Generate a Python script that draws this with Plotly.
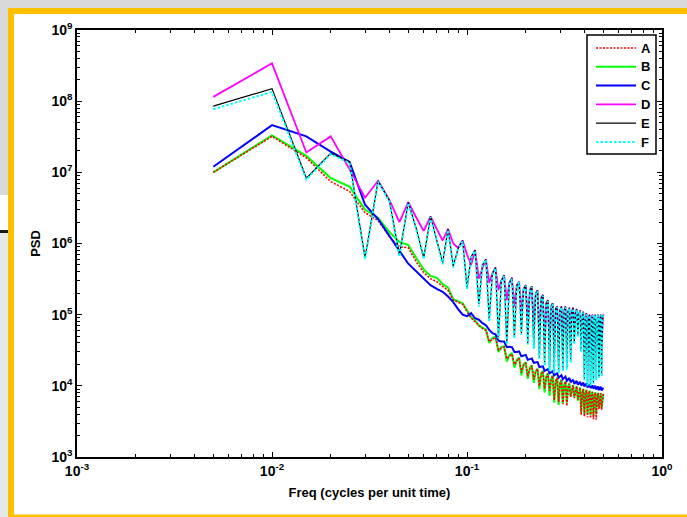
import plotly.graph_objects as go

# ---------------- data ----------------
freq = [0.005 * k for k in range(1, 101)]  # 0.005 ... 0.5 cycles per unit time

A = [1.0e7, 3.2e7, 1.6e7, 7.4e6, 5.4e6, 2.7e6, 2.1e6, 1.25e6, 9.0e5, 8.7e5,
     5.5e5, 3.9e5, 3.2e5, 2.9e5, 2.5e5, 2.2e5, 1.6e5, 1.5e5, 1.4e5, 1.1e5,
     9.0e4, 8.0e4, 7.2e4, 6.4e4, 6.0e4, 4.2e4, 4.5e4, 4.8e4, 3.2e4, 3.4e4,
     3.5e4, 2.4e4, 2.6e4, 2.8e4, 2.0e4, 2.2e4, 2.45e4, 1.55e4, 1.95e4, 2.1e4,
     1.36e4, 1.74e4, 1.93e4, 1.23e4, 1.57e4, 1.74e4, 1.0e4, 1.45e4, 1.6e4, 9.1e3,
     1.32e4, 1.48e4, 8.5e3, 1.23e4, 1.38e4, 6.3e3, 1.15e4, 1.29e4, 5.9e3, 1.07e4,
     1.2e4, 5.5e3, 1.01e4, 1.15e4, 5.2e3, 9.5e3, 1.07e4, 7.0e3, 9.1e3, 1.02e4,
     6.7e3, 8.7e3, 9.8e3, 6.4e3, 8.3e3, 9.4e3, 3.9e3, 7.9e3, 9.0e3, 3.7e3,
     7.7e3, 8.7e3, 3.6e3, 7.4e3, 8.5e3, 3.5e3, 7.2e3, 8.2e3, 3.4e3, 7.1e3,
     8.0e3, 3.35e3, 6.9e3, 7.9e3, 4.7e3, 6.8e3, 7.9e3, 4.6e3, 6.8e3, 7.8e3]

B = [1.0e7, 3.3e7, 1.7e7, 8.3e6, 6.3e6, 3.0e6, 2.3e6, 1.45e6, 1.05e6, 9.5e5,
     6.2e5, 4.3e5, 3.5e5, 3.3e5, 2.7e5, 2.4e5, 1.65e5, 1.55e5, 1.45e5, 1.15e5,
     9.2e4, 8.3e4, 7.0e4, 6.6e4, 6.2e4, 4.0e4, 4.7e4, 4.9e4, 3.0e4, 3.5e4,
     3.6e4, 2.2e4, 2.7e4, 2.9e4, 1.8e4, 2.3e4, 2.5e4, 1.4e4, 2.0e4, 2.15e4,
     1.25e4, 1.8e4, 1.95e4, 1.1e4, 1.6e4, 1.75e4, 9.0e3, 1.5e4, 1.62e4, 8.0e3,
     1.35e4, 1.5e4, 7.2e3, 1.25e4, 1.4e4, 5.8e3, 1.17e4, 1.3e4, 5.4e3, 1.1e4,
     1.22e4, 5.6e3, 1.03e4, 1.16e4, 5.8e3, 9.7e3, 1.08e4, 7.2e3, 9.3e3, 1.03e4,
     6.9e3, 8.9e3, 9.9e3, 6.2e3, 8.5e3, 9.5e3, 4.3e3, 8.1e3, 9.1e3, 4.0e3,
     7.8e3, 8.8e3, 4.0e3, 7.6e3, 8.6e3, 3.9e3, 7.4e3, 8.3e3, 3.8e3, 7.2e3,
     8.1e3, 4.0e3, 7.0e3, 8.0e3, 5.0e3, 6.9e3, 7.9e3, 4.9e3, 6.9e3, 7.7e3]

C = [1.2e7, 4.6e7, 3.2e7, 1.95e7, 1.4e7, 3.5e6, 2.2e6, 1.26e6, 7.9e5, 5.2e5,
     4.0e5, 3.2e5, 2.6e5, 2.3e5, 2.1e5, 1.8e5, 1.5e5, 1.2e5, 1.0e5, 9.5e4,
     1.05e5, 8.9e4, 8.5e4, 7.6e4, 7.1e4, 6.1e4, 5.5e4, 5.3e4, 4.3e4, 4.2e4,
     4.2e4, 3.5e4, 3.55e4, 3.5e4, 3.0e4, 3.0e4, 3.05e4, 2.6e4, 2.63e4, 2.72e4,
     2.32e4, 2.4e4, 2.43e4, 2.11e4, 2.14e4, 2.16e4, 1.84e4, 1.86e4, 1.88e4, 1.62e4,
     1.66e4, 1.72e4, 1.5e4, 1.55e4, 1.6e4, 1.4e4, 1.45e4, 1.5e4, 1.3e4, 1.35e4,
     1.41e4, 1.24e4, 1.29e4, 1.35e4, 1.18e4, 1.23e4, 1.29e4, 1.12e4, 1.17e4, 1.22e4,
     1.07e4, 1.11e4, 1.17e4, 1.04e4, 1.08e4, 1.14e4, 1.01e4, 1.05e4, 1.11e4, 9.8e3,
     1.02e4, 1.08e4, 9.5e3, 1.0e4, 1.05e4, 9.3e3, 9.8e3, 1.02e4, 9.1e3, 9.5e3,
     1.0e4, 8.9e3, 9.3e3, 9.8e3, 8.7e3, 9.2e3, 9.7e3, 8.6e3, 9.1e3, 9.4e3]

D = [1.15e8, 3.4e8, 1.9e7, 3.2e7, 1.1e7, 4.4e6, 7.6e6, 4.1e6, 2.0e6, 3.8e6,
     2.3e6, 1.5e6, 2.4e6, 1.6e6, 1.1e6, 1.6e6, 1.0e6, 8.7e5, 1.1e6, 7.0e5,
     5.0e5, 8.1e5, 3.2e5, 4.5e5, 6.0e5, 2.8e5, 3.8e5, 4.6e5, 2.2e5, 3.0e5,
     3.6e5, 1.6e5, 2.8e5, 3.3e5, 1.3e5, 2.6e5, 2.9e5, 1.1e5, 2.3e5, 2.6e5,
     9.0e4, 2.2e5, 2.5e5, 7.0e4, 2.0e5, 2.2e5, 5.5e4, 1.7e5, 1.9e5, 4.5e4,
     1.45e5, 1.6e5, 4.0e4, 1.3e5, 1.45e5, 4.0e4, 1.2e5, 1.3e5, 4.5e4, 1.15e5,
     1.3e5, 5.0e4, 1.15e5, 1.3e5, 5.0e4, 1.1e5, 1.25e5, 5.5e4, 1.1e5, 1.25e5,
     7.0e4, 1.05e5, 1.2e5, 8.0e4, 1.0e5, 1.15e5, 6.0e4, 9.5e4, 1.1e5, 3.5e4,
     9.0e4, 1.05e5, 3.0e4, 8.5e4, 1.0e5, 3.0e4, 8.5e4, 1.0e5, 3.2e4, 8.5e4,
     1.0e5, 3.5e4, 8.5e4, 1.0e5, 3.8e4, 8.5e4, 1.0e5, 4.0e4, 8.8e4, 1.0e5]

E = [8.5e7, 1.5e8, 8.3e6, 1.85e7, 1.4e7, 6.3e5, 7.6e6, 4.0e6, 6.9e5, 3.8e6,
     1.6e6, 6.3e5, 2.4e6, 1.1e6, 5.4e5, 1.6e6, 4.8e5, 8.5e5, 1.1e6, 2.4e5,
     6.5e5, 8.1e5, 1.4e5, 5.0e5, 6.0e5, 8.5e4, 3.8e5, 4.6e5, 4.9e4, 3.0e5,
     3.6e5, 4.0e4, 2.8e5, 3.3e5, 4.9e4, 2.6e5, 2.9e5, 5.5e4, 2.3e5, 2.6e5,
     4.0e4, 2.2e5, 2.5e5, 3.5e4, 2.0e5, 2.2e5, 2.5e4, 1.7e5, 1.9e5, 2.0e4,
     1.45e5, 1.6e5, 1.66e4, 1.3e5, 1.45e5, 1.6e4, 1.2e5, 1.3e5, 1.6e4, 1.15e5,
     1.3e5, 1.66e4, 1.15e5, 1.3e5, 1.8e4, 1.1e5, 1.25e5, 2.2e4, 1.1e5, 1.25e5,
     4.0e4, 1.05e5, 1.2e5, 5.0e4, 1.0e5, 1.15e5, 3.2e4, 9.5e4, 1.1e5, 1.26e4,
     9.0e4, 1.05e5, 1.07e4, 8.5e4, 1.0e5, 1.05e4, 8.5e4, 1.0e5, 1.12e4, 8.5e4,
     1.0e5, 1.26e4, 8.5e4, 1.0e5, 1.35e4, 8.5e4, 1.0e5, 1.4e4, 8.8e4, 1.0e5]

F = [7.7e7, 1.35e8, 7.9e6, 1.8e7, 1.35e7, 6.0e5, 7.4e6, 3.9e6, 6.5e5, 3.7e6,
     1.55e6, 6.0e5, 2.35e6, 1.05e6, 5.1e5, 1.55e6, 4.6e5, 8.2e5, 1.07e6, 2.3e5,
     6.3e5, 7.9e5, 1.3e5, 4.9e5, 5.9e5, 8.0e4, 3.7e5, 4.5e5, 4.6e4, 2.9e5,
     3.5e5, 3.8e4, 2.7e5, 3.2e5, 4.6e4, 2.5e5, 2.85e5, 5.2e4, 2.25e5, 2.55e5,
     3.8e4, 2.15e5, 2.45e5, 3.3e4, 1.95e5, 2.15e5, 2.4e4, 1.65e5, 1.85e5, 1.9e4,
     1.4e5, 1.55e5, 1.6e4, 1.27e5, 1.42e5, 1.5e4, 1.17e5, 1.27e5, 1.5e4, 1.12e5,
     1.27e5, 1.6e4, 1.12e5, 1.27e5, 1.7e4, 1.07e5, 1.22e5, 2.1e4, 1.07e5, 1.22e5,
     3.8e4, 1.02e5, 1.17e5, 4.8e4, 9.8e4, 1.12e5, 3.0e4, 9.3e4, 1.07e5, 1.2e4,
     8.8e4, 1.02e5, 1.0e4, 8.3e4, 9.8e4, 1.0e4, 8.3e4, 9.8e4, 1.07e4, 8.3e4,
     9.8e4, 1.2e4, 8.3e4, 9.8e4, 1.3e4, 8.3e4, 9.8e4, 1.35e4, 8.6e4, 9.8e4]

series_names = ["A", "B", "C", "D", "E", "F"]

x_ticks = [1e-3, 1e-2, 1e-1, 1]
x_tick_text = ["10<sup>-3</sup>", "10<sup>-2</sup>", "10<sup>-1</sup>", "10<sup>0</sup>"]
y_ticks = [1e3, 1e4, 1e5, 1e6, 1e7, 1e8, 1e9]
y_tick_text = ["10<sup>3</sup>", "10<sup>4</sup>", "10<sup>5</sup>", "10<sup>6</sup>",
               "10<sup>7</sup>", "10<sup>8</sup>", "10<sup>9</sup>"]

# ---------------- figure ----------------
W, H = 687, 517
L, R, T, Bm = 77, 25, 30, 60
FONT = "Liberation Sans, Arial, Helvetica, sans-serif"

styles = {
    "A": dict(color="#ff0000", width=1.6, dash="2px,1.5px"),
    "B": dict(color="#00ff00", width=2.0, dash="solid"),
    "C": dict(color="#0000ff", width=2.0, dash="solid"),
    "D": dict(color="#ff00ff", width=1.8, dash="solid"),
    "E": dict(color="#000000", width=1.2, dash="solid"),
    "F": dict(color="#00ffff", width=2.0, dash="2.5px,2px"),
}
values = dict(zip(series_names, [A, B, C, D, E, F]))

fig = go.Figure()
# drawing order: B under dotted A, then C, D, E, and dotted F over black E
for name in ["B", "A", "C", "D", "E", "F"]:
    fig.add_trace(go.Scatter(x=freq, y=values[name], mode="lines", name=name,
                             line=styles[name], showlegend=False))

minor_x = [m * 10 ** e for e in (-3, -2, -1) for m in range(2, 10)]
minor_y = [m * 10 ** e for e in range(3, 9) for m in range(2, 10)]

axis_common = dict(showline=True, linecolor="black", linewidth=1.5, mirror="ticks",
                   ticks="inside", ticklen=5, tickwidth=1.2, tickcolor="black",
                   showgrid=False, zeroline=False,
                   tickfont=dict(family=FONT, size=14, color="black", weight="bold"))

fig.update_xaxes(type="log", range=[-3, 0], tickvals=x_ticks, ticktext=x_tick_text,
                 minor=dict(tickvals=minor_x, ticks="inside", ticklen=3, tickcolor="black", tickwidth=1),
                 title=dict(text="<b>Freq (cycles per unit time)</b>", standoff=10,
                            font=dict(family=FONT, size=13, color="black")),
                 **axis_common)
fig.update_yaxes(type="log", range=[3, 9], tickvals=y_ticks, ticktext=y_tick_text,
                 minor=dict(tickvals=minor_y, ticks="inside", ticklen=3, tickcolor="black", tickwidth=1),
                 title=dict(text="<b>PSD</b>", standoff=8,
                            font=dict(family=FONT, size=13, color="black")),
                 **axis_common)


def px(x):
    return (x - L) / (W - L - R)


def py(y):
    return (H - Bm - y) / (H - T - Bm)


def rect(x0, y0, x1, y1, color, layer="below", border=None):
    fig.add_shape(type="rect", xref="paper", yref="paper", layer=layer,
                  x0=px(x0), x1=px(x1), y0=py(y1), y1=py(y0),
                  fillcolor=color,
                  line=dict(width=0) if border is None else dict(color=border, width=1.5))


# slide background and frame
rect(0, 0, W, 8, "#d9d9d9")
rect(0, 0, 8, 195, "#d9d9d9")
rect(0, 233, 8, H, "#e3e8e8")
rect(0, 230, 8, 233, "#1a1a1a")
rect(8, 8, W, 14, "#ffc000")
rect(8, 8, 14, H, "#ffc000")
rect(8, 514.5, W, H, "#ffc000")

# legend box (MATLAB style: long line samples, labels at right)
rect(587, 35, 656, 154, "white", layer="above", border="black")
for i, name in enumerate(series_names):
    yy = 48 + i * 18.8
    st = styles[name]
    fig.add_shape(type="line", xref="paper", yref="paper", layer="above",
                  x0=px(596), x1=px(636), y0=py(yy), y1=py(yy),
                  line=dict(color=st["color"], width=st["width"], dash=st["dash"]))
    fig.add_annotation(xref="paper", yref="paper", x=px(639), y=py(yy),
                       xanchor="left", yanchor="middle", showarrow=False,
                       text="<b>%s</b>" % name,
                       font=dict(family=FONT, size=13, color="black"))

fig.update_layout(
    width=W, height=H,
    margin=dict(l=L, r=R, t=T, b=Bm),
    paper_bgcolor="white", plot_bgcolor="white",
    font=dict(family=FONT, color="black"),
    showlegend=False,
)

fig.write_html("out.html")
